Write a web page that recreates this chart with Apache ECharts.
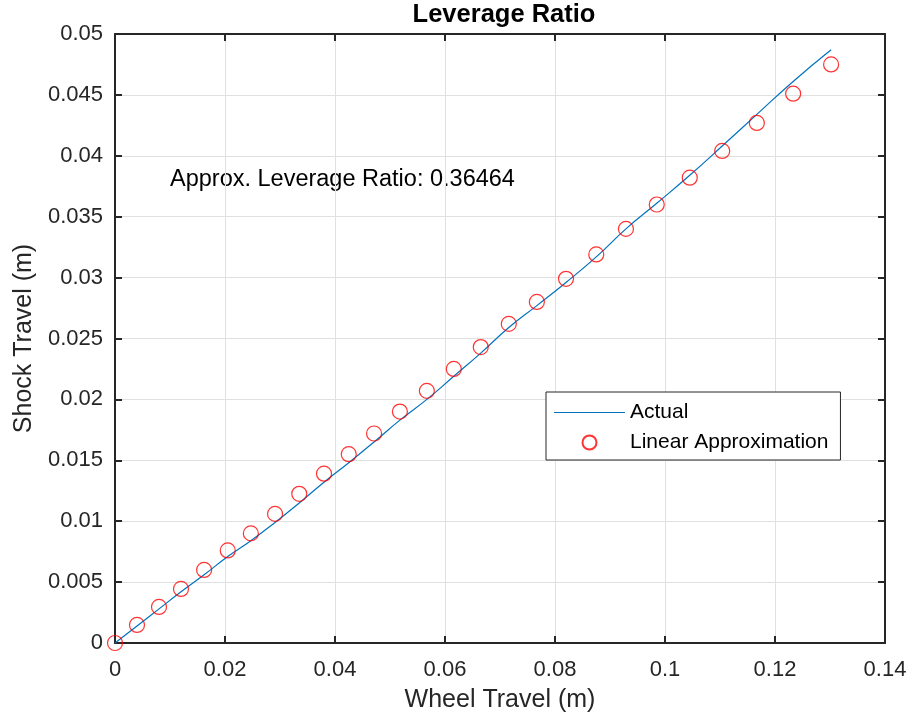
<!DOCTYPE html>
<html>
<head>
<meta charset="utf-8">
<script src="https://cdn.jsdelivr.net/npm/echarts@6/dist/echarts.min.js"></script>
<style>
  html, body { margin: 0; padding: 0; background: #fff; }
  #main { width: 913px; height: 721px; }
</style>
</head>
<body>
<div id="main"></div>
<script>
// wheel travel (m) at each sample
var wheelTravel = [0, 0.0040, 0.0080, 0.0120, 0.0162, 0.0205, 0.0247, 0.0291, 0.0335,
  0.0380, 0.0425, 0.0471, 0.0518, 0.0567, 0.0616, 0.0665, 0.0716, 0.0767, 0.0820,
  0.0875, 0.0929, 0.0985, 0.1045, 0.1104, 0.1167, 0.1233, 0.1302];
// measured shock travel (m)
var actualShock = [0, 0.0014, 0.0028, 0.0042, 0.0056, 0.0071, 0.0084, 0.0099, 0.0115,
  0.0132, 0.0148, 0.0165, 0.0183, 0.0200, 0.0219, 0.0238, 0.0259, 0.0277, 0.0296,
  0.0317, 0.0340, 0.0361, 0.0384, 0.0408, 0.0434, 0.0461, 0.0487];
// linear approximation of shock travel (m)
var linearShock = [0, 0.00148, 0.00296, 0.00444, 0.0060, 0.0076, 0.0090, 0.0106, 0.01225,
  0.0139, 0.0155, 0.0172, 0.0190, 0.0207, 0.0225, 0.0243, 0.0262, 0.0280, 0.0299,
  0.0319, 0.0340, 0.0360, 0.0382, 0.0404, 0.0427, 0.0451, 0.0475];
var ratioText = 'Approx. Leverage Ratio: 0.36464';

var font = '"Liberation Sans", Arial, sans-serif';
var ink = '#262626';

function pairs(xs, ys) {
  return xs.map(function (x, i) { return [x, ys[i]]; });
}
function trim(v) {
  return String(parseFloat(v.toFixed(4)));
}

var axisLine = { show: true, onZero: false, lineStyle: { color: ink, width: 2 } };
var ticks = { show: true, inside: true, length: 7, lineStyle: { color: ink, width: 2 } };
var grid = { show: true, lineStyle: { color: '#e0e0e0', width: 1 } };

// thin horizontal stroke for the legend entry of the line series
var lineIcon = 'path://M0,0L0,0M0,6.4h71v1.2h-71zM71,14L71,14';

var myChart = echarts.init(document.getElementById('main'));
var option = {
  backgroundColor: '#fff',
  animation: false,
  title: {
    text: 'Leverage Ratio',
    left: 499,
    top: -3,
    textAlign: 'center',
    textStyle: { fontFamily: font, fontSize: 25.5, fontWeight: 'bold', color: '#000' }
  },
  grid: { left: 115, right: 28, top: 34, bottom: 78 },
  xAxis: [
    {
      type: 'value', min: 0, max: 0.14, interval: 0.02, position: 'bottom',
      name: 'Wheel Travel (m)', nameLocation: 'middle', nameGap: 45,
      nameTextStyle: { fontFamily: font, fontSize: 25, color: ink },
      axisLine: axisLine, axisTick: ticks, splitLine: grid,
      axisLabel: { margin: 16, fontFamily: font, fontSize: 22, color: ink, formatter: trim }
    },
    {
      type: 'value', min: 0, max: 0.14, interval: 0.02, position: 'top',
      axisLine: axisLine, axisTick: ticks, splitLine: { show: false },
      axisLabel: { show: false }
    }
  ],
  yAxis: [
    {
      type: 'value', min: 0, max: 0.05, interval: 0.005, position: 'left',
      name: 'Shock Travel (m)', nameLocation: 'middle', nameGap: 78,
      nameTextStyle: { fontFamily: font, fontSize: 25, color: ink },
      axisLine: axisLine, axisTick: ticks, splitLine: grid,
      axisLabel: { margin: 12, fontFamily: font, fontSize: 22, color: ink, formatter: trim }
    },
    {
      type: 'value', min: 0, max: 0.05, interval: 0.005, position: 'right',
      axisLine: axisLine, axisTick: ticks, splitLine: { show: false },
      axisLabel: { show: false }
    }
  ],
  legend: {
    orient: 'vertical',
    left: 546,
    top: 392,
    padding: [10, 12, 7, 8],
    itemGap: 9,
    itemWidth: 71,
    itemHeight: 14,
    backgroundColor: '#fff',
    borderColor: ink,
    borderWidth: 1,
    borderRadius: 0,
    textStyle: { fontFamily: font, fontSize: 21, color: '#000' },
    data: [
      { name: 'Actual', icon: lineIcon },
      { name: 'Linear Approximation' }
    ]
  },
  graphic: [
    {
      type: 'text',
      left: 170,
      top: 168,
      style: { text: ratioText, font: '23.5px ' + font, fill: '#000' }
    }
  ],
  series: [
    {
      name: 'Actual',
      type: 'line',
      data: pairs(wheelTravel, actualShock),
      symbol: 'none',
      smooth: true,
      lineStyle: { color: '#0072BD', width: 1.2 },
      itemStyle: { color: '#0072BD' },
      z: 3
    },
    {
      name: 'Linear Approximation',
      type: 'scatter',
      data: pairs(wheelTravel, linearShock),
      symbol: 'circle',
      symbolSize: 15,
      itemStyle: { color: 'rgba(0,0,0,0)', borderColor: '#ff0000', borderWidth: 1.2 },
      z: 4
    }
  ]
};

myChart.setOption(option);
</script>
</body>
</html>
